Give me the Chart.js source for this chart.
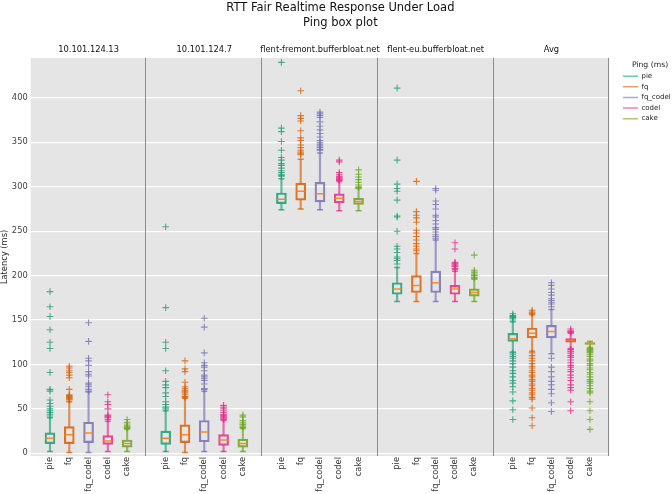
<!DOCTYPE html>
<html>
<head>
<meta charset="utf-8">
<script src="https://cdn.jsdelivr.net/npm/chart.js@4.4.0/dist/chart.umd.min.js"></script>
<style>
  html, body { margin: 0; padding: 0; background: #fff; }
  #wrap { width: 672px; height: 494px; }
</style>
</head>
<body>
<div id="wrap"><canvas id="chart"></canvas></div>
<script>
const panels = ['10.101.124.13', '10.101.124.7', 'flent-fremont.bufferbloat.net', 'flent-eu.bufferbloat.net', 'Avg']
const series = ['pie', 'fq', 'fq_codel', 'codel', 'cake']
const colors = ['#1b9e77', '#d95f02', '#7570b3', '#e7298a', '#66a61e']
const yTicks = [0, 50, 100, 150, 200, 250, 300, 350, 400]

// [whisker low, q1, median, q3, whisker high], one entry per panel
const pieStats = [[2, 11, 17, 23, 40], [2, 10, 17, 25, 48], [274, 281, 286, 293, 309], [171, 179, 185, 192, 209], [114, 126, 129, 135, 148]]
const fqStats = [[1, 11, 21, 30, 58], [1, 12, 21, 32, 62], [275, 285, 295, 304, 331], [171, 181, 189, 200, 225], [115, 130, 135, 141, 156]]
const fqCodelStats = [[1, 12, 23, 35, 69], [2, 13, 24, 37, 70], [274, 283, 292, 305, 338], [171, 181, 192, 205, 240], [112, 130, 137, 144, 162]]
const codelStats = [[2, 10, 14, 20, 36], [2, 9, 15, 21, 37], [273, 282, 287, 292, 306], [171, 179, 185, 189, 205], [118, 125, 127, 129, 135]]
const cakeStats = [[2, 7, 11, 15, 27], [2, 7, 11, 16, 28], [273, 280, 283, 287, 298], [171, 177, 181, 185, 196], [119, 122.5, 123.5, 124.5, 126]]

// fliers, one list per panel
const pieOut = [
  [182, 165, 154, 139, 125, 118, 91, 72, 70, 60, 56, 53, 50, 48, 46, 44, 42],
  [255, 164, 125, 118, 93, 81, 77, 74, 68, 64, 58, 55, 52, 50],
  [440, 366, 362, 351, 341, 333, 330, 326, 324, 321, 318, 316, 314, 313, 312],
  [411, 330, 303, 298, 295, 285, 267, 266, 250, 233, 230, 226, 221, 219, 217, 213],
  [157, 155, 154, 153, 152, 150, 113, 111, 109, 107, 104, 101, 97, 93, 90, 86, 82, 79, 75, 69, 59, 49, 38]
]
const fqOut = [
  [98, 96, 93, 91, 88, 85, 72, 66, 65, 64, 63, 62, 61, 60],
  [104, 95, 92, 80, 75, 73, 71, 70, 68, 66, 64, 63],
  [408, 380, 377, 374, 363, 355, 352, 347, 344, 341, 339, 337, 336],
  [306, 272, 268, 265, 260, 251, 248, 244, 240, 236, 233, 230, 228],
  [161, 159, 158, 157, 113, 110, 107, 104, 101, 98, 96, 93, 91, 88, 86, 83, 81, 78, 76, 73, 71, 68, 66, 63, 61, 51, 40, 31]
]
const fqCodelOut = [
  [147, 126, 107, 104, 99, 92, 89, 87, 79, 77, 75, 72, 70],
  [152, 142, 113, 102, 99, 97, 93, 88, 86, 84, 82, 78, 73, 72],
  [384, 382, 380, 378, 373, 368, 364, 360, 356, 352, 350, 348, 346, 344, 342, 341],
  [298, 296, 284, 280, 275, 268, 266, 262, 258, 254, 252, 249, 246, 244, 242],
  [192, 189, 185, 181, 178, 174, 172, 170, 168, 165, 107, 97, 92, 86, 81, 77, 72, 67, 57, 47]
]
const codelOut = [
  [66, 58, 55, 50, 43, 42, 41, 40, 38],
  [54, 52, 50, 48, 46, 44, 43, 42, 41, 40, 39, 38],
  [330, 328, 316, 314, 312, 311, 310, 309, 308, 307],
  [237, 230, 215, 214, 213, 212, 211, 210, 208, 207],
  [140, 138, 137, 136, 117, 115, 114, 112, 110, 108, 105, 102, 99, 97, 94, 92, 88, 85, 82, 77, 74, 71, 58, 48]
]
const cakeOut = [
  [38, 35, 33, 31, 30, 29, 28],
  [43, 41, 37, 35, 33, 32, 30, 29],
  [319, 314, 311, 308, 305, 302, 300, 299],
  [223, 206, 204, 203, 201, 200, 198, 197],
  [118, 117, 116, 115, 114, 113, 111, 109, 106, 104, 101, 99, 96, 94, 91, 89, 86, 83, 81, 79, 76, 73, 70, 68, 58, 48, 38, 27]
]

const stats = [pieStats, fqStats, fqCodelStats, codelStats, cakeStats]
const outliers = [pieOut, fqOut, fqCodelOut, codelOut, cakeOut]

// each panel spans 6 x-units: boxes sit at 1..5
const slot = 6
const xPos = (p, s) => p * slot + s + 1
const xTickPositions = panels.flatMap((_, p) => series.map((_, s) => xPos(p, s)))

function fade(hex, a) {
  const n = parseInt(hex.slice(1), 16)
  return `rgba(${n >> 16}, ${(n >> 8) & 255}, ${n & 255}, ${a})`
}

const datasets = []
series.forEach((name, s) => {
  const st = stats[s]
  const c = colors[s]
  // box (q1..q3)
  datasets.push({
    type: 'bar', label: name, order: 1, grouped: false,
    data: st.map((b, p) => ({ x: xPos(p, s), y: [b[1], b[3]] })),
    backgroundColor: 'rgba(0,0,0,0)', borderColor: fade(c, 0.85),
    borderWidth: 1.5, borderSkipped: false, barThickness: 10
  })
  // whiskers
  datasets.push({
    type: 'bar', order: 3, grouped: false,
    data: st.flatMap((b, p) => [{ x: xPos(p, s), y: [b[0], b[1]] }, { x: xPos(p, s), y: [b[3], b[4]] }]),
    backgroundColor: fade(c, 0.65), borderWidth: 0, barThickness: 1.5
  })
  // caps
  datasets.push({
    type: 'scatter', order: 2,
    data: st.flatMap((b, p) => [{ x: xPos(p, s), y: b[0] }, { x: xPos(p, s), y: b[4] }]),
    pointStyle: 'line', pointRadius: 3, borderColor: fade(c, 0.75), borderWidth: 1.5
  })
  // medians
  datasets.push({
    type: 'scatter', order: 0,
    data: st.map((b, p) => ({ x: xPos(p, s), y: b[2] })),
    pointStyle: 'line', pointRadius: 4.5, borderColor: 'rgba(255, 127, 14, 0.9)', borderWidth: 1.5
  })
  // fliers
  datasets.push({
    type: 'scatter', order: 4,
    data: outliers[s].flatMap((vals, p) => vals.map(v => ({ x: xPos(p, s), y: v }))),
    pointStyle: 'cross', pointRadius: 3.3, borderColor: fade(c, 0.8), borderWidth: 1.1
  })
})

const panelFrame = {
  id: 'panelFrame',
  beforeDraw(chart) {
    const { ctx, chartArea: a } = chart
    ctx.save()
    ctx.fillStyle = '#e5e5e5'
    ctx.fillRect(a.left, a.top, a.right - a.left, a.bottom - a.top)
    ctx.restore()
  },
  beforeDatasetsDraw(chart) {
    const { ctx, chartArea: a, scales: { x } } = chart
    ctx.save()
    ctx.strokeStyle = '#8c8c8c'
    ctx.lineWidth = 1
    for (let p = 1; p <= panels.length; p++) {
      const px = Math.round(x.getPixelForValue(p * slot)) - 0.5
      ctx.beginPath()
      ctx.moveTo(px, a.top)
      ctx.lineTo(px, a.bottom)
      ctx.stroke()
    }
    ctx.restore()
  }
}

Chart.defaults.font.family = "'DejaVu Sans', sans-serif"

new Chart(document.getElementById('chart'), {
  type: 'scatter',
  data: { datasets },
  plugins: [panelFrame],
  options: {
    responsive: true,
    maintainAspectRatio: false,
    animation: false,
    events: [],
    layout: { padding: { left: 0, right: -8.7, top: 0, bottom: 0 } },
    plugins: {
      tooltip: { enabled: false },
      title: {
        display: true,
        text: ['RTT Fair Realtime Response Under Load', 'Ping box plot'],
        color: '#111',
        font: { size: 11.5, weight: 'normal', lineHeight: 1.3 },
        padding: { top: 1, bottom: 0 }
      },
      legend: {
        position: 'right',
        align: 'start',
        fullSize: false,
        title: { display: true, text: 'Ping (ms)', color: '#222', font: { size: 7.7 }, padding: { top: 3, bottom: -1 } },
        labels: {
          usePointStyle: true,
          pointStyle: 'line',
          pointStyleWidth: 15,
          padding: 3.6,
          color: '#222',
          font: { size: 7 },
          generateLabels: () => series.map((name, s) => ({
            text: name,
            strokeStyle: fade(colors[s], 0.6),
            fillStyle: fade(colors[s], 0.6),
            lineWidth: 1.5,
            pointStyle: 'line',
            hidden: false,
            datasetIndex: s * 5
          }))
        }
      }
    },
    scales: {
      y: {
        min: -3,
        max: 445,
        afterBuildTicks: (s) => { s.ticks = yTicks.map(v => ({ value: v })) },
        afterFit: (s) => { s.width = 30.7 },
        grid: { color: '#ffffff', lineWidth: 1.3, drawTicks: false },
        border: { display: false },
        ticks: { color: '#444', font: { size: 8.3 }, padding: 3 },
        title: { display: true, text: 'Latency (ms)', color: '#222', font: { size: 8.3 }, padding: 0 }
      },
      y2: {
        position: 'right',
        afterFit: (s) => { s.width = 10.1 },
        grid: { display: false, drawTicks: false },
        border: { display: false },
        ticks: { display: false }
      },
      x: {
        type: 'linear',
        min: 0,
        max: panels.length * slot,
        offset: false,
        afterBuildTicks: (s) => { s.ticks = xTickPositions.map(v => ({ value: v })) },
        afterFit: (s) => { s.height = 38 },
        grid: { display: false, drawTicks: false },
        border: { display: false },
        ticks: {
          autoSkip: false, minRotation: 90, maxRotation: 90, padding: 1,
          color: '#333', font: { size: 8.3 },
          callback: (v) => series[(v % slot) - 1]
        }
      },
      x2: {
        type: 'linear',
        position: 'top',
        min: 0,
        max: panels.length * slot,
        offset: false,
        afterBuildTicks: (s) => { s.ticks = panels.map((_, p) => ({ value: p * slot + slot / 2 })) },
        afterFit: (s) => { s.height = 27 },
        grid: { display: false, drawTicks: false },
        border: { display: false },
        ticks: {
          autoSkip: false, minRotation: 0, maxRotation: 0, padding: 3,
          color: '#111', font: { size: 8.3 },
          callback: (v) => panels[(v - slot / 2) / slot]
        }
      }
    }
  }
})
</script>
</body>
</html>
